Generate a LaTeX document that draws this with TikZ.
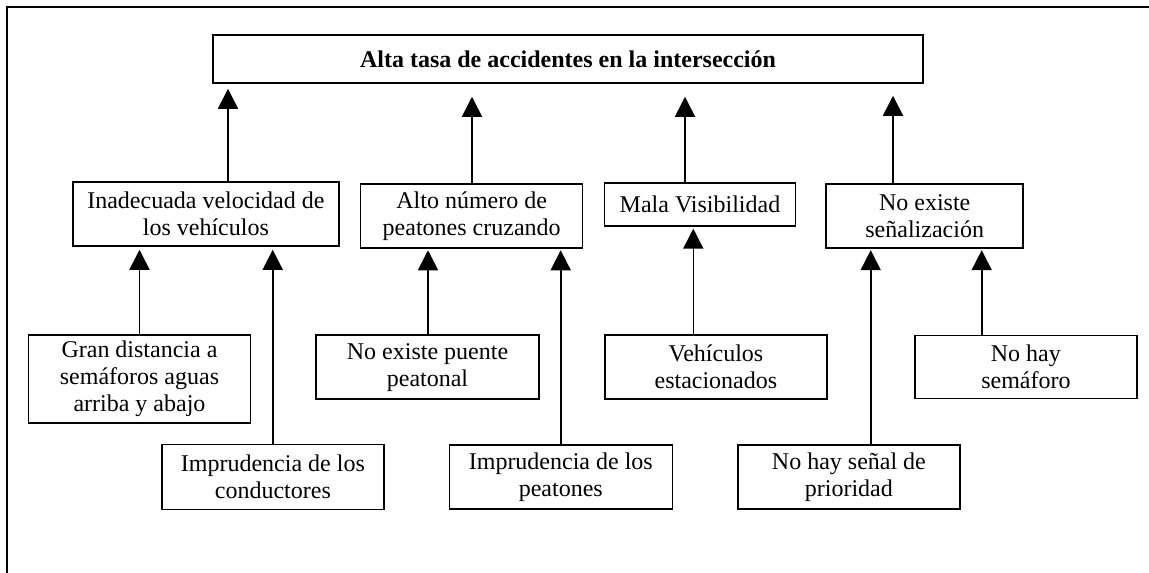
\documentclass[tikz,border=0pt]{standalone}
\usepackage{fontspec}
\setmainfont{Liberation Serif}
\usetikzlibrary{arrows.meta}
\tikzset{
  box/.style={draw, line width=1.5pt, inner sep=0pt, align=center,
    font=\fontsize{24}{27}\selectfont},
  arr/.style={-{Triangle[width=20pt,length=20pt]}, line width=1.6pt},
  frame/.style={line width=2pt}
}
\begin{document}
\begin{tikzpicture}[x=1pt,y=-1pt]
\useasboundingbox (0,0) rectangle (1149,573);
\coordinate (fa) at (6.5,573);
\coordinate (fb) at (6.5,6.5);
\coordinate (fc) at (1149,6.5);
\draw[frame] (fa) -- (fb) -- (fc);

\node[box, minimum width=710pt, minimum height=48pt] (top) at (568,59)
  {\textbf{Alta tasa de accidentes en la intersección}};

\node[box, minimum width=266pt, minimum height=64pt] (inad) at (205.9,214)
  {Inadecuada velocidad de\\los vehículos};
\node[box, minimum width=222pt, minimum height=64pt] (alto) at (471.7,216)
  {Alto número de\\peatones cruzando};
\node[box, minimum width=191pt, minimum height=43pt] (mala) at (700,204.4)
  {Mala Visibilidad};
\node[box, minimum width=197pt, minimum height=64pt] (senal) at (924.7,215.9)
  {No existe\\señalización};

\node[box, minimum width=222pt, minimum height=88pt] (gran) at (139.5,379.2)
  {Gran distancia a\\semáforos aguas\\arriba y abajo};
\node[box, minimum width=222pt, minimum height=65pt] (conduc) at (272.9,476.8)
  {Imprudencia de los\\conductores};
\node[box, minimum width=223pt, minimum height=64pt] (puente) at (427.5,367.2)
  {No existe puente\\peatonal};
\node[box, minimum width=223pt, minimum height=64pt] (peaton) at (560.8,477.2)
  {Imprudencia de los\\peatones};
\node[box, minimum width=222pt, minimum height=64pt] (vehic) at (715.9,367)
  {Vehículos\\estacionados};
\node[box, minimum width=222pt, minimum height=64pt] (prior) at (848.9,477.2)
  {No hay señal de\\prioridad};
\node[box, minimum width=222pt, minimum height=63pt] (semaf) at (1025.9,367.1)
  {No hay\\semáforo};

% x positions of connectors
\coordinate (x1) at (228,0);
\coordinate (x2) at (472,0);
\coordinate (x3) at (685,0);
\coordinate (x4) at (893,0);
\coordinate (x5) at (139.5,0);
\coordinate (x6) at (272.7,0);
\coordinate (x7) at (428,0);
\coordinate (x8) at (560.7,0);
\coordinate (x9) at (693.3,0);
\coordinate (x10) at (870.7,0);
\coordinate (x11) at (981.7,0);

\draw[arr, shorten >=5pt] (inad.north -| x1) -- (top.south -| x1);
\draw[arr, shorten >=13pt] (alto.north -| x2) -- (top.south -| x2);
\draw[arr, shorten >=13pt] (mala.north -| x3) -- (top.south -| x3);
\draw[arr, shorten >=12pt] (senal.north -| x4) -- (top.south -| x4);

\draw[arr, shorten >=3pt] (gran.north -| x5) -- (inad.south -| x5);
\draw[arr, shorten >=3pt] (conduc.north -| x6) -- (inad.south -| x6);
\draw[arr, shorten >=1.5pt] (puente.north -| x7) -- (alto.south -| x7);
\draw[arr, shorten >=1.5pt] (peaton.north -| x8) -- (alto.south -| x8);
\draw[arr, shorten >=2pt] (vehic.north -| x9) -- (mala.south -| x9);
\draw[arr, shorten >=1.5pt] (prior.north -| x10) -- (senal.south -| x10);
\draw[arr, shorten >=1.5pt] (semaf.north -| x11) -- (senal.south -| x11);
\end{tikzpicture}
\end{document}
